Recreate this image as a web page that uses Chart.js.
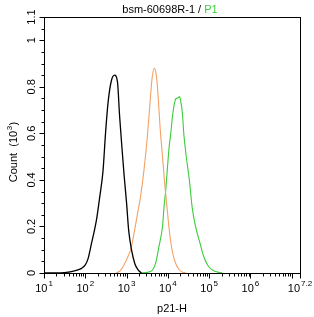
<!DOCTYPE html>
<html>
<head>
<meta charset="utf-8">
<script src="https://cdn.jsdelivr.net/npm/chart.js@4.4.1/dist/chart.umd.min.js"></script>
<style>
    html, body { margin: 0; padding: 0; background: #fff; }
    #wrap { width: 314px; height: 317px; }
</style>
</head>
<body>
<div id="wrap"><canvas id="chart" width="314" height="317"></canvas></div>
<script>
// x values are log10 of the p21-H intensity, y values are counts in thousands
const blackLog = [1.00, 1.35, 1.50, 1.66, 1.80, 1.91, 2.00, 2.07, 2.15, 2.27, 2.35, 2.43, 2.49, 2.55, 2.63, 2.71, 2.78, 2.83, 2.89, 2.94, 3.00, 3.05, 3.12, 3.20, 3.28, 3.36];
const blackCount = [0, 0, 0.002, 0.006, 0.012, 0.02, 0.035, 0.063, 0.127, 0.227, 0.327, 0.44, 0.60, 0.73, 0.825, 0.85, 0.82, 0.677, 0.534, 0.42, 0.30, 0.184, 0.099, 0.04, 0.013, 0];

const orangeLog = [2.75, 2.85, 2.94, 3.03, 3.10, 3.18, 3.26, 3.34, 3.42, 3.50, 3.58, 3.62, 3.67, 3.72, 3.76, 3.81, 3.87, 3.92, 3.97, 4.03, 4.10, 4.18, 4.27, 4.36, 4.45];
const orangeCount = [0, 0.01, 0.035, 0.07, 0.10, 0.17, 0.25, 0.33, 0.44, 0.58, 0.76, 0.84, 0.88, 0.85, 0.77, 0.63, 0.50, 0.39, 0.30, 0.19, 0.10, 0.045, 0.015, 0.003, 0];

const greenLog = [3.34, 3.58, 3.70, 3.78, 3.87, 3.91, 3.95, 3.98, 4.03, 4.07, 4.11, 4.15, 4.19, 4.24, 4.28, 4.31, 4.35, 4.39, 4.46, 4.52, 4.59, 4.67, 4.78, 4.87, 4.99, 5.16, 5.32];
const greenCount = [0, 0.006, 0.04, 0.11, 0.20, 0.29, 0.36, 0.43, 0.54, 0.60, 0.67, 0.72, 0.748, 0.752, 0.758, 0.74, 0.69, 0.59, 0.48, 0.40, 0.28, 0.20, 0.127, 0.07, 0.027, 0.006, 0];

const xTickValues = [1, 2, 3, 4, 5, 6, 7.2];
const xTickExponents = ['1', '2', '3', '4', '5', '6', '7.2'];
const yTickValues = [0, 0.2, 0.4, 0.6, 0.8, 1, 1.1];
const yTickLabels = ['0', '0.2', '0.4', '0.6', '0.8', '1', '1.1'];

const toPoints = (xs, ys) => xs.map((v, i) => ({ x: v, y: ys[i] }));

const FONT = '"Liberation Sans", Arial, sans-serif';

// axes, ticks and labels are drawn by hand so they look like the flow cytometry plot
const axisPlugin = {
    id: 'flowAxes',
    afterDraw(chart) {
        const { ctx, chartArea: a, scales: { x, y } } = chart;
        const left = Math.round(a.left) + 0.5;
        const top = Math.round(a.top) + 0.5;
        const right = Math.round(a.right) + 0.5;
        const bottom = Math.round(a.bottom) + 0.5;

        ctx.save();
        ctx.strokeStyle = '#000';
        ctx.lineWidth = 1;
        ctx.strokeRect(left, top, right - left, bottom - top);

        // x ticks: decades plus the 2..9 minor marks
        ctx.beginPath();
        for (let d = 1; d <= 7; d++) {
            const px = Math.round(x.getPixelForValue(d)) + 0.5;
            ctx.moveTo(px, bottom); ctx.lineTo(px, bottom + 5);
            for (let k = 2; k <= 9; k++) {
                const v = d + Math.log10(k);
                if (v > 7.2) break;
                const mx = Math.round(x.getPixelForValue(v)) + 0.5;
                ctx.moveTo(mx, bottom); ctx.lineTo(mx, bottom + 3);
            }
        }
        const endX = Math.round(x.getPixelForValue(7.2)) + 0.5;
        ctx.moveTo(endX, bottom); ctx.lineTo(endX, bottom + 5);

        // y ticks every 0.05, longer on labelled values
        for (let i = 0; i <= 22; i++) {
            const v = i * 0.05;
            const py = Math.round(y.getPixelForValue(v)) + 0.5;
            const major = yTickValues.some(t => Math.abs(t - v) < 1e-6);
            ctx.moveTo(left, py); ctx.lineTo(left - (major ? 5 : 3), py);
        }
        ctx.stroke();

        ctx.fillStyle = '#000';

        // x tick labels: "10" with a raised exponent
        xTickValues.forEach((v, i) => {
            const px = x.getPixelForValue(v);
            ctx.font = '11px ' + FONT;
            const baseW = ctx.measureText('10').width;
            ctx.font = '8px ' + FONT;
            const expW = ctx.measureText(xTickExponents[i]).width;
            const start = px - (baseW + 1 + expW) / 2;
            ctx.textAlign = 'left';
            ctx.textBaseline = 'alphabetic';
            ctx.font = '11px ' + FONT;
            ctx.fillText('10', start, 292);
            ctx.font = '8px ' + FONT;
            ctx.fillText(xTickExponents[i], start + baseW + 1, 286);
        });

        // y tick labels, rotated
        ctx.font = '11px ' + FONT;
        ctx.textAlign = 'center';
        ctx.textBaseline = 'middle';
        yTickValues.forEach((v, i) => {
            const py = y.getPixelForValue(v);
            ctx.save();
            ctx.translate(32, py);
            ctx.rotate(-Math.PI / 2);
            ctx.fillText(yTickLabels[i], 0, 0);
            ctx.restore();
        });

        // y axis title "Count (10³)"
        ctx.save();
        ctx.translate(17, 152);
        ctx.rotate(-Math.PI / 2);
        ctx.textBaseline = 'alphabetic';
        ctx.textAlign = 'left';
        ctx.font = '11px ' + FONT;
        const p1 = 'Count  (10', p2 = '3', p3 = ')';
        const w1 = ctx.measureText(p1).width, w3 = ctx.measureText(p3).width;
        ctx.font = '8px ' + FONT;
        const w2 = ctx.measureText(p2).width;
        let cx = -(w1 + w2 + w3 + 1) / 2;
        ctx.font = '11px ' + FONT;
        ctx.fillText(p1, cx, 0);
        ctx.font = '8px ' + FONT;
        ctx.fillText(p2, cx + w1 + 0.5, -5);
        ctx.font = '11px ' + FONT;
        ctx.fillText(p3, cx + w1 + w2 + 1, 0);
        ctx.restore();

        // x axis title
        ctx.textAlign = 'center';
        ctx.textBaseline = 'alphabetic';
        ctx.font = '11px ' + FONT;
        ctx.fillText('p21-H', (a.left + a.right) / 2, 312);

        // title, two colours
        const t1 = 'bsm-60698R-1 / ', t2 = 'P1';
        const tw1 = ctx.measureText(t1).width, tw2 = ctx.measureText(t2).width;
        const tx = 170 - (tw1 + tw2) / 2;
        ctx.textAlign = 'left';
        ctx.fillStyle = '#000';
        ctx.fillText(t1, tx, 13);
        ctx.fillStyle = '#3ccc3c';
        ctx.fillText(t2, tx + tw1, 13);
        ctx.restore();
    }
};

const lineStyle = { showLine: true, pointRadius: 0, fill: false, cubicInterpolationMode: 'monotone' };

new Chart(document.getElementById('chart'), {
    type: 'scatter',
    data: {
        datasets: [
            { label: 'Isotype', data: toPoints(blackLog, blackCount), borderColor: '#000000', borderWidth: 1.3, ...lineStyle },
            { label: 'Control', data: toPoints(orangeLog, orangeCount), borderColor: '#f2a266', borderWidth: 1.1, ...lineStyle },
            { label: 'P1', data: toPoints(greenLog, greenCount), borderColor: '#3ccc3c', borderWidth: 1.1, ...lineStyle }
        ]
    },
    options: {
        responsive: false,
        animation: false,
        layout: { padding: { left: 44, right: 14, top: 17, bottom: 44 } },
        scales: {
            x: { type: 'linear', min: 1, max: 7.2, display: false },
            y: { type: 'linear', min: 0, max: 1.1, display: false }
        },
        plugins: { legend: { display: false }, tooltip: { enabled: false }, title: { display: false } }
    },
    plugins: [axisPlugin]
});
</script>
</body>
</html>
